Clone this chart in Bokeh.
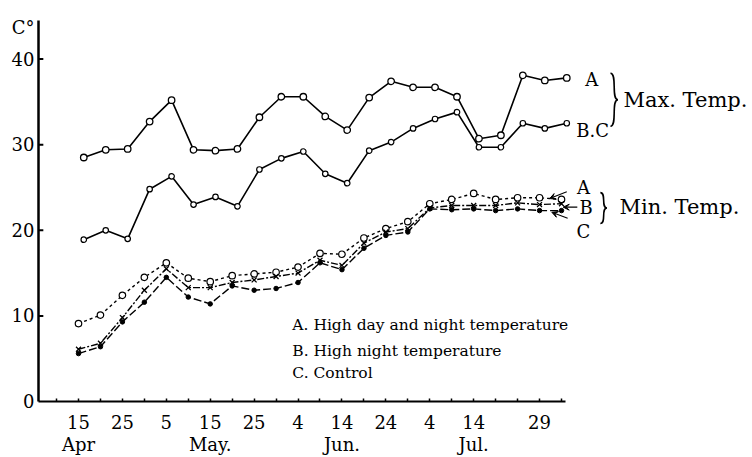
import pandas as pd
from bokeh.plotting import figure
from bokeh.models import ColumnDataSource, FixedTicker, Label, Arrow, VeeHead
from bokeh.transform import dodge
from bokeh.embed import file_html
from bokeh.resources import INLINE

# ---------------- data ----------------
dates = ["Apr 15", "Apr 20", "Apr 25", "Apr 30", "May 5", "May 10", "May 15",
         "May 20", "May 25", "May 30", "Jun 4", "Jun 9", "Jun 14", "Jun 19",
         "Jun 24", "Jun 29", "Jul 4", "Jul 9", "Jul 14", "Jul 19", "Jul 24",
         "Jul 29", "Aug 3"]

max_A = [28.5, 29.4, 29.5, 32.7, 35.2, 29.4, 29.3, 29.5, 33.2, 35.6, 35.6, 33.3,
         31.7, 35.5, 37.4, 36.7, 36.7, 35.6, 30.7, 31.1, 38.1, 37.5, 37.8]
max_BC = [18.9, 20.0, 19.0, 24.8, 26.3, 23.0, 23.9, 22.8, 27.1, 28.4, 29.2, 26.6,
          25.5, 29.3, 30.3, 31.9, 33.0, 33.8, 29.7, 29.7, 32.5, 31.9, 32.5]
min_A = [9.1, 10.1, 12.4, 14.5, 16.2, 14.4, 14.0, 14.7, 14.9, 15.1, 15.7, 17.3,
         17.2, 19.1, 20.2, 21.0, 23.1, 23.6, 24.3, 23.6, 23.8, 23.8, 23.6]
min_B = [6.1, 6.8, 9.8, 13.0, 15.5, 13.3, 13.3, 13.9, 14.2, 14.6, 15.0, 16.5,
         15.9, 18.5, 19.8, 20.2, 22.6, 22.9, 22.9, 22.9, 23.2, 23.0, 23.1]
min_C = [5.6, 6.4, 9.3, 11.6, 14.5, 12.2, 11.4, 13.5, 13.0, 13.2, 13.9, 16.2,
         15.4, 17.9, 19.4, 19.8, 22.5, 22.4, 22.5, 22.3, 22.5, 22.3, 22.3]

tick_dates = ["Apr 10"] + dates
tick_labels = {"Apr 15": "15\nApr", "Apr 25": "25", "May 5": "5",
               "May 15": "15\nMay.", "May 25": "25", "Jun 4": "4",
               "Jun 14": "14\nJun.", "Jun 24": "24", "Jul 4": "4",
               "Jul 14": "14\nJul.", "Jul 29": "29"}
y_ticks = [0, 10, 20, 30, 40]
y_unit = "C°"

legend_lines = ["A. High day and night temperature",
                "B. High night temperature",
                "C. Control"]

# -------------- helpers --------------
origin = pd.to_datetime("Apr 15 1961", format="%b %d %Y")


def to_day(d):
    return (pd.to_datetime(d + " 1961", format="%b %d %Y") - origin).days


days = [to_day(d) for d in dates]
tick_days = [to_day(d) for d in tick_dates]

src = ColumnDataSource(dict(day=days, max_A=max_A, max_BC=max_BC,
                            min_A=min_A, min_B=min_B, min_C=min_C))

FONT = "DejaVu Serif"
X0, X1 = -9.11, 153.5
Y0, Y1 = 0, 46.84
UNIT_Y = 43.7

p = figure(width=752, height=457, x_range=(X0, X1), y_range=(Y0, Y1),
           output_backend="svg", toolbar_location=None,
           min_border_left=38, min_border_right=0, min_border_top=0,
           min_border_bottom=53)
p.xgrid.visible = False
p.ygrid.visible = False
p.outline_line_color = None
p.background_fill_color = "white"
p.border_fill_color = "white"

# x axis
p.xaxis.ticker = FixedTicker(ticks=tick_days)
overrides = {to_day(d): "" for d in tick_dates}
overrides.update({to_day(k): v for k, v in tick_labels.items()})
p.xaxis.major_label_overrides = overrides
p.xaxis.bounds = (X0, 110.8)
p.xaxis.axis_line_width = 2
p.xaxis.axis_line_color = "black"
p.xaxis.major_tick_in = 3
p.xaxis.major_tick_out = 0
p.xaxis.major_tick_line_width = 1.5
p.xaxis.minor_tick_line_color = None
p.xaxis.major_label_standoff = 10
p.xaxis.major_label_text_font = FONT
p.xaxis.major_label_text_font_size = "18px"
p.xaxis.major_label_text_color = "black"
p.xaxis.major_label_text_line_height = 1.05

# y axis (unit label shown as top label)
p.yaxis.ticker = FixedTicker(ticks=y_ticks + [UNIT_Y])
p.yaxis.major_label_overrides = {UNIT_Y: y_unit}
p.yaxis.bounds = (0, 44.5)
p.yaxis.axis_line_width = 2.5
p.yaxis.axis_line_color = "black"
p.yaxis.major_tick_in = 0
p.yaxis.major_tick_out = 0
p.yaxis.minor_tick_line_color = None
p.yaxis.major_label_standoff = 4
p.yaxis.major_label_text_font = FONT
p.yaxis.major_label_text_font_size = "18px"
p.yaxis.major_label_text_color = "black"

# inward y tick marks for 10..40
tks = [t for t in y_ticks if t > 0]
p.segment(x0=[X0] * len(tks), y0=tks, x1=[X0 + 1.1] * len(tks), y1=tks,
          line_color="black", line_width=2)

xmax = dodge("day", 1.2)

# max temperature lines
p.line(x=xmax, y="max_A", source=src, line_color="black", line_width=1.6)
p.scatter(x=xmax, y="max_A", source=src, marker="circle", size=6.5,
          fill_color="white", line_color="black", line_width=1.3)
p.line(x=xmax, y="max_BC", source=src, line_color="black", line_width=1.6)
p.scatter(x=xmax, y="max_BC", source=src, marker="circle", size=5.5,
          fill_color="white", line_color="black", line_width=1.2)

# min temperature lines
p.line(x="day", y="min_A", source=src, line_color="black", line_width=1.4,
       line_dash="3 3")
p.scatter(x="day", y="min_A", source=src, marker="circle", size=6.5,
          fill_color="white", line_color="black", line_width=1.2)
p.line(x="day", y="min_B", source=src, line_color="black", line_width=1.4,
       line_dash="7 2 2 2")
p.scatter(x="day", y="min_B", source=src, marker="x", size=7,
          line_color="black", line_width=1.3)
p.line(x="day", y="min_C", source=src, line_color="black", line_width=1.4,
       line_dash="8 3")
p.scatter(x="day", y="min_C", source=src, marker="circle", size=4.5,
          fill_color="black", line_color="black")


def lab(x, y, text, size="18px", align="left", font=FONT):
    p.add_layout(Label(x=x, y=y, text=text, text_font=font,
                       text_font_size=size, text_align=align,
                       text_baseline="middle", text_color="black"))


# series labels
lab(116.9, 37.6, "A", align="center")
lab(117.1, 31.7, "B.C", align="center")
lab(115.0, 25.0, "A", align="center")
lab(115.6, 22.7, "B", align="center")
lab(115.0, 19.9, "C", align="center")
lab(124.1, 35.2, "Max. Temp.", size="21px")
lab(123.2, 22.7, "Min. Temp.", size="21px")

# legend text
for t, yy in zip(legend_lines, [8.93, 5.91, 3.36]):
    lab(48.7, yy, t, size="15.5px")


# braces
def brace(xc, ymid, half_h, w):
    xl, xr = xc - w / 2, xc + w / 2
    p.bezier(x0=[xl, xr], y0=[ymid + half_h, ymid],
             x1=[xr, xl], y1=[ymid, ymid - half_h],
             cx0=[xc + 0.45 * w, xc - 0.45 * w], cy0=[ymid + half_h, ymid],
             cx1=[xc - 0.45 * w, xc + 0.45 * w], cy1=[ymid, ymid - half_h],
             line_color="black", line_width=1.6)


brace(122.0, 35.25, 3.1, 1.7)
brace(119.6, 22.6, 1.8, 1.5)

# pointer arrows for min labels
for xs, ys, xe, ye in [(111.2, 24.5, 107.3, 23.7),
                       (113.6, 22.7, 110.4, 22.7),
                       (111.4, 21.4, 107.8, 22.1)]:
    p.add_layout(Arrow(end=VeeHead(size=6, line_width=1), x_start=xs,
                       y_start=ys, x_end=xe, y_end=ye, line_width=1.1))

open("out.html", "w").write(file_html(p, INLINE))
